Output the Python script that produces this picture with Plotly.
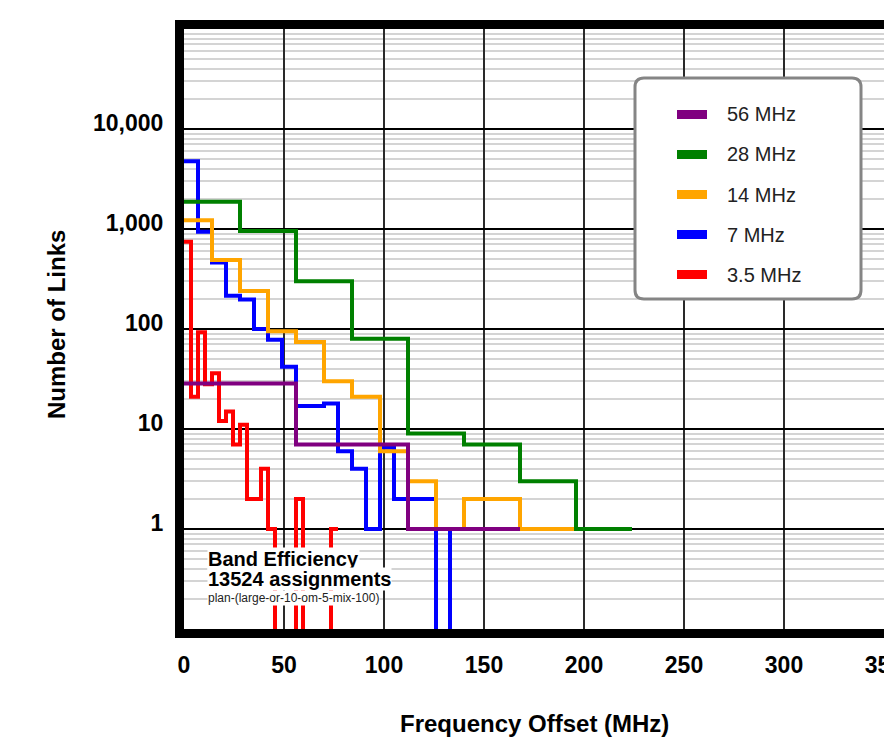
import plotly.graph_objects as go

FONT = "Liberation Sans, Arial, Helvetica, sans-serif"

# ---------------- data ----------------
series_names = ["3.5 MHz", "7 MHz", "14 MHz", "28 MHz", "56 MHz"]
bin_widths = [3.5, 7, 14, 28, 56]
series_colors = ["#FF0000", "#0000FF", "#FFA500", "#008000", "#800080"]

links_3_5 = [745, 21, 93, 28, 36, 12, 15, 7, 11, 2, 2, 4, 1, 0, 0, 0, 2, 0, 0, 0, 0, 1]
links_7 = [4750, 940, 462, 215, 197, 100, 78, 42, 17, 17, 18, 6, 4, 1, 6.5, 2, 2, 2, 0, 1]
links_14 = [1220, 490, 240, 95, 74, 30, 21, 6, 3, 1, 2, 2, 1, 1]
links_28 = [1870, 955, 300, 80, 9, 7, 3, 1]
links_56 = [28.5, 7, 1]

series_values = [links_3_5, links_7, links_14, links_28, links_56]

x_tickvals = [0, 50, 100, 150, 200, 250, 300, 350]
y_tickvals = [1, 10, 100, 1000, 10000]
y_ticktext = ["1", "10", "100", "1,000", "10,000"]

legend_order = ["56 MHz", "28 MHz", "14 MHz", "7 MHz", "3.5 MHz"]

title_lines = ["Band Efficiency", "13524 assignments"]
subtitle = "plan-(large-or-10-om-5-mix-100)"

# ---------------- layout geometry (pixels) ----------------
W, H = 884, 746
L, R, T, B = 184, 0, 29, 117
PW = W - L - R
PH = H - T - B


def px(x):
    return (x - L) / PW


def py(y):
    return (H - B - y) / PH


ZERO_FLOOR = 1e-3  # zero counts drop below the bottom of the log axis

fig = go.Figure()
for name, w, col, vals in zip(series_names, bin_widths, series_colors, series_values):
    xs = [i * w for i in range(len(vals) + 1)]
    ys = [v if v > 0 else ZERO_FLOOR for v in vals] + [vals[-1] if vals[-1] > 0 else ZERO_FLOOR]
    fig.add_trace(go.Scatter(
        x=xs, y=ys, mode="lines", name=name,
        line=dict(color=col, width=4, shape="hv"),
        showlegend=False,
    ))

shapes = []
annotations = []

# legend box (rounded)
bx0, bx1, by0, by1, r = 635, 861, 78, 299, 9
path = (f"M {px(bx0 + r)} {py(by0)} L {px(bx1 - r)} {py(by0)} "
        f"Q {px(bx1)} {py(by0)} {px(bx1)} {py(by0 + r)} "
        f"L {px(bx1)} {py(by1 - r)} Q {px(bx1)} {py(by1)} {px(bx1 - r)} {py(by1)} "
        f"L {px(bx0 + r)} {py(by1)} Q {px(bx0)} {py(by1)} {px(bx0)} {py(by1 - r)} "
        f"L {px(bx0)} {py(by0 + r)} Q {px(bx0)} {py(by0)} {px(bx0 + r)} {py(by0)} Z")
shapes.append(dict(type="path", xref="paper", yref="paper", path=path,
                   fillcolor="white", line=dict(color="#858585", width=3), layer="above"))

color_of = dict(zip(series_names, series_colors))
for i, name in enumerate(legend_order):
    cy = 114.5 + 40 * i
    shapes.append(dict(type="rect", xref="paper", yref="paper",
                       x0=px(677), x1=px(707), y0=py(cy - 4.5), y1=py(cy + 4.5),
                       fillcolor=color_of[name], line=dict(width=0), layer="above"))
    annotations.append(dict(text=name, xref="paper", yref="paper", x=px(725), y=py(cy),
                            xanchor="left", yanchor="middle", showarrow=False,
                            font=dict(family=FONT, size=20, color="#222")))

# chart caption
annotations.append(dict(text=title_lines[0], xref="paper", yref="paper", x=px(207), y=py(559),
                        xanchor="left", yanchor="middle", showarrow=False, bgcolor="white",
                        borderpad=0, font=dict(family=FONT, size=20, color="black", weight="bold")))
annotations.append(dict(text=title_lines[1], xref="paper", yref="paper", x=px(207), y=py(579),
                        xanchor="left", yanchor="middle", showarrow=False, bgcolor="white",
                        borderpad=0, font=dict(family=FONT, size=20, color="black", weight="bold")))
annotations.append(dict(text=subtitle, xref="paper", yref="paper", x=px(207), y=py(598),
                        xanchor="left", yanchor="middle", showarrow=False, bgcolor="white",
                        borderpad=0, font=dict(family=FONT, size=12, color="#222")))

# axis titles
annotations.append(dict(text="Number of Links", xref="paper", yref="paper", x=px(56), y=py(325),
                        xanchor="center", yanchor="middle", textangle=-90, showarrow=False,
                        font=dict(family=FONT, size=24, color="black", weight="bold")))
annotations.append(dict(text="Frequency Offset (MHz)", xref="paper", yref="paper", x=px(534), y=py(723),
                        xanchor="center", yanchor="middle", showarrow=False,
                        font=dict(family=FONT, size=24, color="black", weight="bold")))

fig.update_layout(
    width=W, height=H,
    margin=dict(l=L, r=R, t=T, b=B, autoexpand=False),
    paper_bgcolor="white", plot_bgcolor="white",
    font=dict(family=FONT, color="black"),
    shapes=shapes, annotations=annotations,
    showlegend=False,
)
fig.update_xaxes(
    range=[0, 350], tickvals=x_tickvals, showgrid=True, gridcolor="#2a2a2a", gridwidth=2,
    zeroline=False, showline=True, linecolor="black", linewidth=9, mirror=True,
    ticks="", ticklabelstandoff=7, ticklabeloverflow="allow",
    tickfont=dict(family=FONT, size=23, color="black", weight="bold"),
)
fig.update_yaxes(
    type="log", range=[-1, 5], tickvals=y_tickvals, ticktext=y_ticktext,
    showgrid=True, gridcolor="black", gridwidth=2,
    minor=dict(dtick="D1", showgrid=True, gridcolor="#d4d4d4", gridwidth=2, ticks=""),
    zeroline=False, showline=True, linecolor="black", linewidth=9, mirror=True,
    ticks="", ticklabelstandoff=7, ticklabelshift=-6,
    tickfont=dict(family=FONT, size=23, color="black", weight="bold"),
)

fig.write_html("out.html", config={"displayModeBar": False})
